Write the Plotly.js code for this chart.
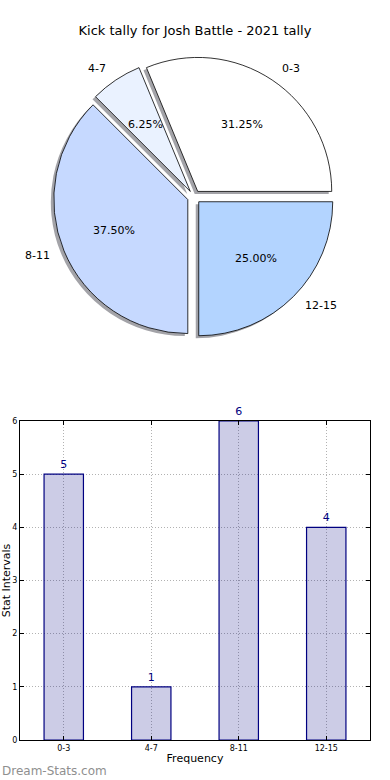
<!DOCTYPE html>
<html>
<head>
<meta charset="utf-8">
<script src="https://cdn.plot.ly/plotly-3.0.1.min.js"></script>
<style>
html,body{margin:0;padding:0;background:#fff;}
#chart{width:390px;height:780px;}
</style>
</head>
<body>
<div id="chart"></div>
<script>
const categories = ['0-3', '4-7', '8-11', '12-15'];
const counts = [5, 1, 6, 4];
const pieColors = ['#ffffff', '#eaf2ff', '#c6d9ff', '#b3d4ff'];
const explode = 0.05;
const yTicks = [0, 1, 2, 3, 4, 5, 6];
const chartTitle = 'Kick tally for Josh Battle - 2021 tally';
const xTitle = 'Frequency';
const yTitle = 'Stat Intervals';
const watermark = 'Dream-Stats.com';

const W = 390, H = 780;
const FONT = 'DejaVu Sans, Verdana, sans-serif';

// matplotlib-style pie: first slice starts at 3 o'clock, counterclockwise
const total = counts.reduce((a, b) => a + b, 0);
const startRotation = 90 - 360 * counts[0] / total;
const before = counts.map((v, i) => counts.slice(0, i).reduce((a, b) => a + b, 0));
const midAngles = counts.map((v, i) => 2 * Math.PI * (before[i] + v / 2) / total);
const pctText = counts.map(v => (100 * v / total).toFixed(2) + '%');

// pie geometry (paper fractions)
const pieR = 134;
const pcx = 194 / W, pcy = (H - 197) / H, half = pieR * (1 + explode);
const pieDomain = {x: [pcx - half / W, pcx + half / W], y: [pcy - half / H, pcy + half / H]};
const sdx = -3 / W, sdy = -2.5 / H;
const shadowDomain = {x: [pieDomain.x[0] + sdx, pieDomain.x[1] + sdx], y: [pieDomain.y[0] + sdy, pieDomain.y[1] + sdy]};
// hidden helper axes sharing the pie centre; 1 unit = pie radius
const k = 1.2;
const helpRange = [-k * (1 + explode), k * (1 + explode)];
const helpDomX = [pcx - k * half / W, pcx + k * half / W];
const helpDomY = [pcy - k * half / H, pcy + k * half / H];

const common = {
  type: 'pie', labels: categories, values: counts, sort: false,
  direction: 'counterclockwise', rotation: startRotation,
  pull: counts.map(() => explode),
  hoverinfo: 'skip', showlegend: false, textinfo: 'none'
};

const shadow = Object.assign({}, common, {
  domain: shadowDomain,
  marker: {colors: categories.map(() => '#a3a3a8'), line: {width: 0}}
});

const mainPie = Object.assign({}, common, {
  domain: pieDomain,
  marker: {colors: pieColors, line: {color: '#000000', width: 0.8}}
});

const bars = {
  type: 'bar', x: categories, y: counts, width: 0.45,
  xaxis: 'x', yaxis: 'y',
  marker: {color: 'rgba(0,0,128,0.2)', line: {color: '#000080', width: 1.2}},
  text: counts.map(String), textposition: 'outside', cliponaxis: false,
  textfont: {family: FONT, size: 11, color: '#000080'},
  hoverinfo: 'skip', showlegend: false
};

// percentages at 0.6 R and labels at 1.1 R from each exploded wedge centre
const pieFont = {family: FONT, size: 11, color: '#000000'};
const pctAnn = midAngles.map((a, i) => ({
  xref: 'x2', yref: 'y2', showarrow: false, text: pctText[i], font: pieFont,
  x: (explode + 0.6) * Math.cos(a), y: (explode + 0.6) * Math.sin(a),
  xanchor: 'center', yanchor: 'middle'
}));
const labelAnn = midAngles.map((a, i) => ({
  xref: 'x2', yref: 'y2', showarrow: false, text: categories[i], font: pieFont,
  x: (explode + 1.1) * Math.cos(a), y: (explode + 1.1) * Math.sin(a),
  xanchor: Math.cos(a) >= 0 ? 'left' : 'right', yanchor: 'middle'
}));

const axisCommon = {
  showline: true, linecolor: '#000000', linewidth: 1, mirror: 'ticks',
  ticks: 'inside', ticklen: 4, tickcolor: '#000000',
  showgrid: true, gridcolor: 'rgba(0,0,0,0.3)', griddash: '1px,2px', gridwidth: 1,
  zeroline: false, fixedrange: true,
  tickfont: {family: FONT, size: 8, color: '#000000'}
};
const hiddenAxis = {visible: false, showgrid: false, zeroline: false, fixedrange: true, range: helpRange};

const layout = {
  width: W, height: H,
  margin: {l: 0, r: 0, t: 0, b: 0},
  paper_bgcolor: '#ffffff', plot_bgcolor: 'rgba(0,0,0,0)',
  font: {family: FONT, color: '#000000'},
  title: {text: chartTitle, font: {family: FONT, size: 13, color: '#000000'},
          x: 0.5, xanchor: 'center', y: 1 - 30 / H, yanchor: 'middle'},
  xaxis: Object.assign({}, axisCommon, {
    domain: [20 / W, 370 / W], range: [-0.5, 3.5], type: 'category',
    title: {text: xTitle, font: {family: FONT, size: 11, color: '#000000'}, standoff: 2}
  }),
  yaxis: Object.assign({}, axisCommon, {
    domain: [40 / H, 359 / H], range: [0, 6], tickvals: yTicks,
    title: {text: yTitle, font: {family: FONT, size: 11, color: '#000000'}, standoff: 0}
  }),
  xaxis2: Object.assign({}, hiddenAxis, {domain: helpDomX, anchor: 'y2'}),
  yaxis2: Object.assign({}, hiddenAxis, {domain: helpDomY, anchor: 'x2'}),
  annotations: pctAnn.concat(labelAnn, [{
    text: watermark, xref: 'paper', yref: 'paper', x: 0, y: 0,
    xanchor: 'left', yanchor: 'bottom', showarrow: false,
    font: {family: FONT, size: 12, color: '#8f8f8f'}
  }])
};

// invisible anchor trace so the helper axes exist
const helper = {type: 'scatter', x: [0], y: [0], xaxis: 'x2', yaxis: 'y2', mode: 'none',
  hoverinfo: 'skip', showlegend: false};

Plotly.newPlot('chart', [shadow, mainPie, bars, helper], layout, {displayModeBar: false, staticPlot: true});
</script>
</body>
</html>
